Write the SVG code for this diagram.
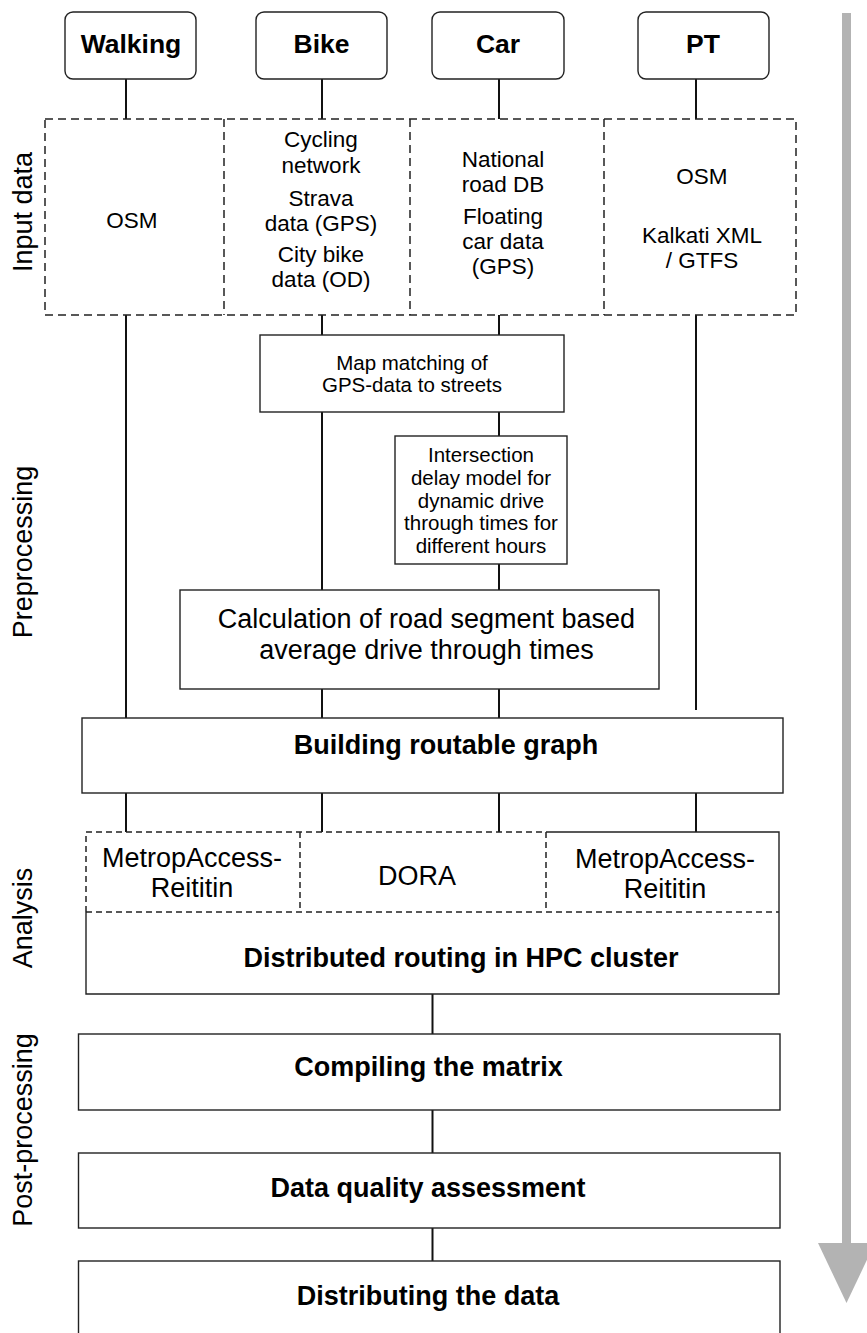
<svg xmlns="http://www.w3.org/2000/svg" width="867" height="1333" viewBox="0 0 867 1333">
<style>
text{font-family:"Liberation Sans",Arial,sans-serif;fill:#000;text-anchor:middle}
.mode{font-size:26.5px;font-weight:bold}
.inp{font-size:22.5px}
.sm{font-size:20.5px}
.big{font-size:27px}
.bold{font-size:27px;font-weight:bold}
.side{font-size:27px}
.box{fill:#fff;stroke:#222;stroke-width:1.4}
.dash{fill:none;stroke:#222;stroke-width:1.5;stroke-dasharray:8,5}
.dash2{fill:none;stroke:#222;stroke-width:1.5;stroke-dasharray:6,4}
.solid{fill:none;stroke:#222;stroke-width:1.4}
.conn line{stroke:#111;stroke-width:2}
</style>
<rect width="867" height="1333" fill="#fff"/>
<!-- progress arrow -->
<g id="flow-arrow">
<rect x="842" y="13" width="9" height="1232" fill="#b3b3b3"/>
<polygon points="818,1243 875,1243 846.5,1303" fill="#b3b3b3"/>
</g>
<!-- side labels -->
<g id="labels">
<text class="side" transform="translate(32,212) rotate(-90)">Input data</text>
<text class="side" transform="translate(32,552) rotate(-90)">Preprocessing</text>
<text class="side" transform="translate(32,918) rotate(-90)">Analysis</text>
<text class="side" transform="translate(32,1130) rotate(-90)">Post-processing</text>
</g>
<!-- connectors -->
<g id="connectors" class="conn">
<line x1="126" y1="79" x2="126" y2="119"/>
<line x1="322" y1="79" x2="322" y2="119"/>
<line x1="499" y1="79" x2="499" y2="119"/>
<line x1="696" y1="79" x2="696" y2="119"/>
<line x1="126" y1="315" x2="126" y2="718"/>
<line x1="322" y1="315" x2="322" y2="335"/>
<line x1="499" y1="315" x2="499" y2="335"/>
<line x1="696" y1="315" x2="696" y2="710"/>
<line x1="322" y1="412" x2="322" y2="590"/>
<line x1="499" y1="412" x2="499" y2="436"/>
<line x1="499" y1="564" x2="499" y2="590"/>
<line x1="322" y1="689" x2="322" y2="718"/>
<line x1="499" y1="689" x2="499" y2="718"/>
<line x1="126" y1="793" x2="126" y2="832"/>
<line x1="322" y1="793" x2="322" y2="832"/>
<line x1="499" y1="793" x2="499" y2="832"/>
<line x1="696" y1="793" x2="696" y2="832"/>
<line x1="432.5" y1="994" x2="432.5" y2="1034"/>
<line x1="432.5" y1="1110" x2="432.5" y2="1153"/>
<line x1="432.5" y1="1228" x2="432.5" y2="1261"/>
</g>
<!-- mode boxes -->
<g id="walking">
<rect class="box" x="65" y="12" width="131" height="67" rx="8"/>
<text class="mode" x="131" y="53">Walking</text>
</g>
<g id="bike">
<rect class="box" x="256" y="12" width="131" height="67" rx="8"/>
<text class="mode" x="321.5" y="53">Bike</text>
</g>
<g id="car">
<rect class="box" x="432" y="12" width="132" height="67" rx="8"/>
<text class="mode" x="498" y="53">Car</text>
</g>
<g id="pt">
<rect class="box" x="638" y="12" width="131" height="67" rx="8"/>
<text class="mode" x="703" y="53">PT</text>
</g>
<!-- input data -->
<g id="input-data">
<rect class="dash" x="45" y="119" width="751" height="196" fill="none"/>
<line class="dash" x1="224" y1="119" x2="224" y2="315"/>
<line class="dash" x1="410" y1="119" x2="410" y2="315"/>
<line class="dash" x1="604" y1="119" x2="604" y2="315"/>
<text class="inp" x="132" y="228">OSM</text>
<text class="inp" x="321" y="147">Cycling</text>
<text class="inp" x="321" y="173">network</text>
<text class="inp" x="321" y="206">Strava</text>
<text class="inp" x="321" y="231">data (GPS)</text>
<text class="inp" x="321" y="262">City bike</text>
<text class="inp" x="321" y="287">data (OD)</text>
<text class="inp" x="503" y="167">National</text>
<text class="inp" x="503" y="192">road DB</text>
<text class="inp" x="503" y="224">Floating</text>
<text class="inp" x="503" y="249">car data</text>
<text class="inp" x="503" y="274">(GPS)</text>
<text class="inp" x="702" y="184">OSM</text>
<text class="inp" x="702" y="243">Kalkati XML</text>
<text class="inp" x="702" y="268">/ GTFS</text>
</g>
<!-- preprocessing -->
<g id="map-matching">
<rect class="box" x="260" y="335" width="304" height="77"/>
<text class="sm" x="412" y="370">Map matching of</text>
<text class="sm" x="412" y="392">GPS-data to streets</text>
</g>
<g id="intersection-delay">
<rect class="box" x="395" y="436" width="172" height="128"/>
<text class="sm" x="481" y="462">Intersection</text>
<text class="sm" x="481" y="485">delay model for</text>
<text class="sm" x="481" y="508">dynamic drive</text>
<text class="sm" x="481" y="530">through times for</text>
<text class="sm" x="481" y="553">different hours</text>
</g>
<g id="calculation">
<rect class="box" x="180" y="590" width="479" height="99"/>
<text class="big" x="426.5" y="628">Calculation of road segment based</text>
<text class="big" x="426.5" y="659">average drive through times</text>
</g>
<g id="building-graph">
<rect class="box" x="82" y="718" width="701" height="75"/>
<text class="bold" x="446" y="754">Building routable graph</text>
</g>
<!-- analysis -->
<g id="analysis">
<rect x="86" y="832" width="693" height="162" fill="#fff"/>
<path class="solid" d="M546,832 H779 V994 H86 V912"/>
<path class="dash2" d="M86,912 V832 H546 V912"/>
<line class="dash2" x1="300" y1="832" x2="300" y2="912"/>
<line class="dash2" x1="86" y1="912" x2="779" y2="912"/>
<text class="big" x="192" y="867">MetropAccess-</text>
<text class="big" x="192" y="897">Reititin</text>
<text class="big" x="417" y="885">DORA</text>
<text class="big" x="665" y="868">MetropAccess-</text>
<text class="big" x="665" y="898">Reititin</text>
<text class="bold" x="461" y="967">Distributed routing in HPC cluster</text>
</g>
<!-- post-processing -->
<g id="compiling">
<rect class="box" x="78.5" y="1034" width="701.5" height="76"/>
<text class="bold" x="428.5" y="1076">Compiling the matrix</text>
</g>
<g id="quality">
<rect class="box" x="78.5" y="1153" width="701.5" height="75"/>
<text class="bold" x="428" y="1197">Data quality assessment</text>
</g>
<g id="distributing">
<rect class="box" x="78.5" y="1261" width="701.5" height="80"/>
<text class="bold" x="428" y="1305">Distributing the data</text>
</g>
</svg>
